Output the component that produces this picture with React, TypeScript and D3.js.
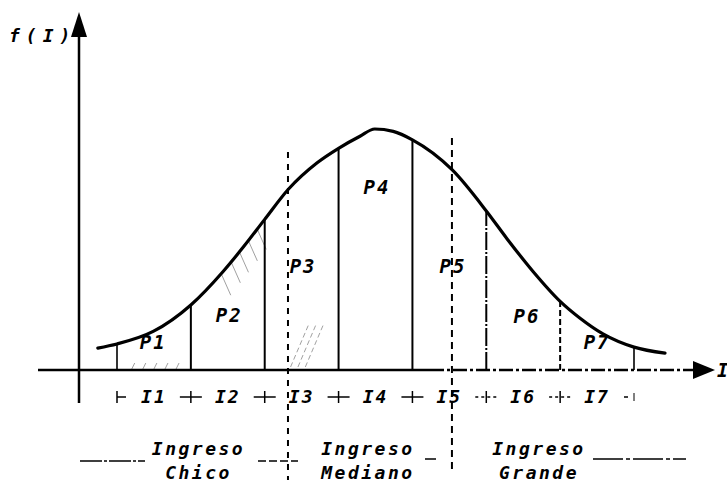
import React from "react";
import * as d3 from "d3";

// Curve f(I): [I (interval-edge units), f (peak = 1)]
const curveI = [0.74, 1.0, 1.49, 2.0, 2.44, 2.71, 3.0, 3.32, 3.71, 4.0, 4.29, 4.49, 4.74, 5.0, 5.54, 6.0, 6.28, 6.63, 7.0, 7.27, 7.58, 8.0, 8.42];
const curveF = [0.091, 0.108, 0.16, 0.27, 0.41, 0.51, 0.625, 0.75, 0.86, 0.92, 0.97, 1.0, 0.99, 0.955, 0.83, 0.66, 0.545, 0.41, 0.285, 0.215, 0.15, 0.095, 0.07];

// Interval edges and labels
const edges = [1, 2, 3, 4, 5, 6, 7, 8];
const intervalLabels = ["I1", "I2", "I3", "I4", "I5", "I6", "I7"];
const areaLabels = ["P1", "P2", "P3", "P4", "P5", "P6", "P7"];
// Group dividers (dashed verticals) in I units
const dividers = [3.315, 5.535];
const groupTop = ["Ingreso", "Ingreso", "Ingreso"];
const groupBottom = ["Chico", "Mediano", "Grande"];

// label anchors (layout)
const areaLabelPos: [number, number][] = [
  [1.49, 0.112], [2.52, 0.22], [3.52, 0.427], [4.52, 0.755], [5.55, 0.427], [6.55, 0.216], [7.5, 0.112],
];

const W = 727, H = 482;
const x = d3.scaleLinear().domain([1, 8]).range([117, 634]);
const y = d3.scaleLinear().domain([0, 1]).range([370, 129]);

const pts: [number, number][] = curveI.map((v, i) => [v, curveF[i]]);
const fAt = (v: number) => {
  const p = pts.find((q) => Math.abs(q[0] - v) < 1e-6);
  return p ? p[1] : 0;
};

const line = d3
  .line<[number, number]>()
  .x((d) => x(d[0]))
  .y((d) => y(d[1]))
  .curve(d3.curveMonotoneX);

const mono = "'DejaVu Sans Mono', monospace";

export default function App() {
  const axisY = y(0);
  const axisX = 79;
  const groupCenters = [
    (x(1) + x(dividers[0])) / 2 - 4,
    (x(dividers[0]) + x(dividers[1])) / 2 - 2,
    (x(dividers[1]) + x(8)) / 2 - 4,
  ];
  const rowY = 403;
  const tickY = rowY - 6;
  return (
    <svg width={W} height={H} style={{ position: "absolute", left: 0, top: 0, background: "#fff" }}>
      <rect width={W} height={H} fill="#fff" />
      {/* light hatching */}
      <g stroke="#555" strokeWidth={1} opacity={0.55}>
        {[2.42, 2.55, 2.66, 2.78, 2.9].map((v, i) => {
          const f = d3.interpolateNumber(0.41, 0.6)((v - 2.42) / 0.48);
          return <line key={"hh" + i} x1={x(v)} y1={y(f) + 4} x2={x(v + 0.12)} y2={y(f) + 24} />;
        })}
        {[3.35, 3.45, 3.55].map((v, i) => (
          <line key={"p3" + i} x1={x(v)} y1={y(0) - 3} x2={x(v + 0.25)} y2={y(0.18) - 3} strokeDasharray="5 3" />
        ))}
        {[1.2, 1.35, 1.5, 1.65, 1.8].map((v, i) => (
          <line key={"p1" + i} x1={x(v)} y1={y(0) - 1} x2={x(v + 0.04)} y2={y(0) - 7} />
        ))}
      </g>

      {/* y axis */}
      <line x1={axisX} y1={34} x2={axisX} y2={403} stroke="#000" strokeWidth={2.5} />
      <path d={`M${axisX},12 L${axisX - 8},37 L${axisX + 8},37 Z`} fill="#000" />
      <text x={9} y={42} fontFamily={mono} fontStyle="italic" fontWeight="bold" fontSize={18} letterSpacing={6}>
        f(I)
      </text>

      {/* x axis */}
      <line x1={38} x2={430} y1={axisY} y2={axisY} stroke="#000" strokeWidth={2.5} />
      <line x1={430} x2={695} y1={axisY} y2={axisY} stroke="#000" strokeWidth={2.5} strokeDasharray="14 3 3 3" />
      <path d={`M715,${axisY} L693,${axisY - 9} L693,${axisY + 9} Z`} fill="#000" />
      <text x={717} y={axisY + 7} fontFamily={mono} fontStyle="italic" fontWeight="bold" fontSize={19}>
        I
      </text>

      {/* boundary verticals */}
      {edges.map((e, i) => (
        <line
          key={"e" + i}
          x1={x(e)}
          x2={x(e)}
          y1={axisY}
          y2={y(fAt(e))}
          stroke="#000"
          strokeWidth={i === 0 || i === 7 ? 1.6 : 2}
          strokeDasharray={i === 6 ? "6 3" : i === 5 ? "18 2 2 2" : undefined}
        />
      ))}

      {/* curve */}
      <path d={line(pts) || ""} fill="none" stroke="#000" strokeWidth={3.2} strokeLinecap="round" />

      {/* dividers */}
      <line x1={x(dividers[0])} x2={x(dividers[0])} y1={152} y2={480} stroke="#000" strokeWidth={2} strokeDasharray="6 6" />
      <line x1={x(dividers[1])} x2={x(dividers[1])} y1={138} y2={472} stroke="#000" strokeWidth={2} strokeDasharray="7 5" />

      {/* P labels */}
      {areaLabels.map((l, i) => (
        <text
          key={l}
          x={x(areaLabelPos[i][0])}
          y={y(areaLabelPos[i][1])}
          textAnchor="middle"
          dominantBaseline="middle"
          fontFamily={mono}
          fontStyle="italic"
          fontWeight="bold"
          fontSize={19}
          letterSpacing={2}
        >
          {l}
        </text>
      ))}

      {/* interval row */}
      <g stroke="#000" strokeWidth={1.5}>
        <line x1={x(1)} x2={x(1)} y1={tickY - 6} y2={tickY + 6} />
        <line x1={x(1)} x2={x(1) + 9} y1={tickY} y2={tickY} />
        {edges.slice(1, 7).map((e, i) => (
          <g key={"t" + i}>
            <line x1={x(e) - 11} x2={x(e) + 11} y1={tickY} y2={tickY} strokeDasharray={i >= 4 ? "3 3" : undefined} />
            <line x1={x(e)} x2={x(e)} y1={tickY - 6} y2={tickY + 6} />
          </g>
        ))}
        <line x1={x(8) - 10} x2={x(8) - 6} y1={tickY} y2={tickY} />
        <line x1={x(8)} x2={x(8)} y1={tickY - 4} y2={tickY + 4} strokeWidth={1} />
      </g>
      {intervalLabels.map((l, i) => (
        <text
          key={l}
          x={(x(edges[i]) + x(edges[i + 1])) / 2}
          y={rowY}
          textAnchor="middle"
          fontFamily={mono}
          fontStyle="italic"
          fontWeight="bold"
          fontSize={18}
          letterSpacing={2}
        >
          {l}
        </text>
      ))}

      {/* group labels */}
      {groupTop.map((t, i) => (
        <g key={"g" + i}>
          <text x={groupCenters[i]} y={455} textAnchor="middle" fontFamily={mono} fontStyle="italic" fontWeight="bold" fontSize={18} letterSpacing={2.5}>
            {t}
          </text>
          <text x={groupCenters[i]} y={479} textAnchor="middle" fontFamily={mono} fontStyle="italic" fontWeight="bold" fontSize={18} letterSpacing={2.5}>
            {groupBottom[i]}
          </text>
        </g>
      ))}
      <g stroke="#000" strokeWidth={1.5}>
        <line x1={80} x2={145} y1={461} y2={461} strokeDasharray="22 2 3 2" />
        <line x1={258} x2={298} y1={461} y2={461} strokeDasharray="8 3" />
        <line x1={425} x2={436} y1={459} y2={459} />
        <line x1={593} x2={686} y1={459} y2={459} strokeDasharray="30 3 4 3" />
      </g>
    </svg>
  );
}
